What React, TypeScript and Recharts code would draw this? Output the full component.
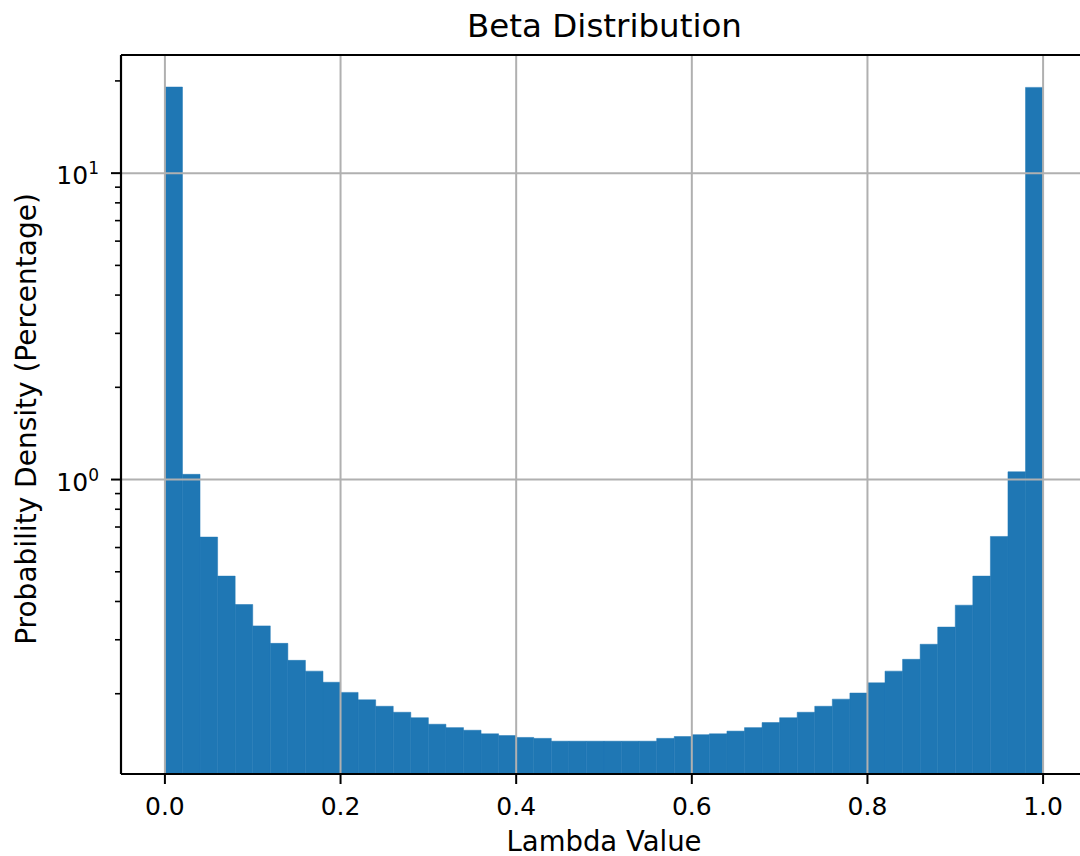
import { Bar, BarChart, ReferenceLine, XAxis, YAxis } from "recharts";

// 50-bin histogram of lambda ~ Beta(a, a), density in percent, log y
const binCenters = [
  0.01, 0.03, 0.05, 0.07, 0.09, 0.11, 0.13, 0.15, 0.17, 0.19,
  0.21, 0.23, 0.25, 0.27, 0.29, 0.31, 0.33, 0.35, 0.37, 0.39,
  0.41, 0.43, 0.45, 0.47, 0.49, 0.51, 0.53, 0.55, 0.57, 0.59,
  0.61, 0.63, 0.65, 0.67, 0.69, 0.71, 0.73, 0.75, 0.77, 0.79,
  0.81, 0.83, 0.85, 0.87, 0.89, 0.91, 0.93, 0.95, 0.97, 0.99,
];
const density = [
  19.1, 1.04, 0.649, 0.484, 0.391, 0.333, 0.292, 0.257, 0.237, 0.218,
  0.202, 0.191, 0.182, 0.174, 0.167, 0.159, 0.155, 0.152, 0.148, 0.146,
  0.144, 0.143, 0.14, 0.14, 0.14, 0.14, 0.14, 0.14, 0.143, 0.145,
  0.147, 0.148, 0.151, 0.155, 0.161, 0.167, 0.174, 0.182, 0.192, 0.201,
  0.217, 0.237, 0.259, 0.29, 0.33, 0.389, 0.484, 0.652, 1.06, 19.05,
];
const xTicks = [0, 0.2, 0.4, 0.6, 0.8, 1.0];
const yMajorTicks = [1, 10];
const yMinorTicks = [0.2, 0.3, 0.4, 0.5, 0.6, 0.7, 0.8, 0.9, 2, 3, 4, 5, 6, 7, 8, 9, 20];

const data = binCenters.map((x, i) => ({ x, density: density[i] }));
const yAllTicks = [...yMinorTicks, ...yMajorTicks].sort((a, b) => a - b);

const FONT = "'DejaVu Sans', sans-serif";
const BLUE = "#1f77b4";
const GRID = "#b0b0b0";
const xDomain = [-0.05, 1.05];
const yDomain = [0.1094, 24.3];

// log tick: long mark + 10^n label for decades, short bare mark otherwise
function LogTick({ x, y, payload }: any) {
  const v = payload.value;
  const major = yMajorTicks.includes(v);
  if (!major) {
    return <line x1={x} x2={x - 6} y1={y} y2={y} stroke="#000" strokeWidth={1.6} />;
  }
  const exp = Math.round(Math.log10(v));
  return (
    <g>
      <line x1={x} x2={x - 10} y1={y} y2={y} stroke="#000" strokeWidth={2} />
      <text x={x - 22} y={y + 11} textAnchor="end" fill="#000" fontFamily={FONT} fontSize={25}>
        10
        <tspan fontSize={17} dy={-10}>
          {exp}
        </tspan>
      </text>
    </g>
  );
}

const axisStroke = { stroke: "#000", strokeWidth: 2.2 };

export default function App() {
  return (
    <div style={{ position: "absolute", left: 0, top: 0, width: 1080, height: 856, overflow: "hidden", background: "#fff" }}>
      <BarChart
        width={1100}
        height={856}
        data={data}
        margin={{ top: 54, right: 12, bottom: 0, left: 0 }}
      >
        <XAxis
          dataKey="x"
          type="number"
          domain={xDomain}
          allowDataOverflow
          ticks={xTicks}
          tickFormatter={(v: number) => v.toFixed(1)}
          height={82}
          tickSize={10}
          tickMargin={13}
          axisLine={axisStroke}
          tickLine={{ stroke: "#000", strokeWidth: 2 }}
          tick={{ fill: "#000", fontSize: 25, fontFamily: FONT }}
        />
        <XAxis
          xAxisId="top"
          dataKey="x"
          type="number"
          orientation="top"
          domain={xDomain}
          allowDataOverflow
          height={1}
          tick={false}
          tickLine={false}
          axisLine={axisStroke}
        />
        <YAxis
          scale="log"
          domain={yDomain}
          allowDataOverflow
          ticks={yAllTicks}
          interval={0}
          width={121}
          tickSize={0}
          tickMargin={0}
          axisLine={axisStroke}
          tickLine={false}
          tick={LogTick}
        />
        <YAxis
          yAxisId="right"
          orientation="right"
          scale="log"
          domain={yDomain}
          allowDataOverflow
          width={1}
          tick={false}
          tickLine={false}
          axisLine={axisStroke}
        />
        <Bar
          dataKey="density"
          fill={BLUE}
          stroke={BLUE}
          strokeWidth={0.5}
          barSize={17.56}
          isAnimationActive={false}
        />
        {xTicks.map((t) => (
          <ReferenceLine key={`gx${t}`} x={t} stroke={GRID} strokeWidth={2} />
        ))}
        {yMajorTicks.map((t) => (
          <ReferenceLine key={`gy${t}`} y={t} stroke={GRID} strokeWidth={2} />
        ))}
      </BarChart>
      <svg
        width={1080}
        height={856}
        style={{ position: "absolute", left: 0, top: 0, pointerEvents: "none" }}
      >
        <text x={604.5} y={36.7} textAnchor="middle" fontFamily={FONT} fontSize={32.5} fill="#000">
          Beta Distribution
        </text>
        <text x={604} y={850.5} textAnchor="middle" fontFamily={FONT} fontSize={27.5} fill="#000">
          Lambda Value
        </text>
        <text
          x={35.5}
          y={419}
          transform="rotate(-90, 35.5, 419)"
          textAnchor="middle"
          fontFamily={FONT}
          fontSize={28}
          fill="#000"
        >
          Probability Density (Percentage)
        </text>
      </svg>
    </div>
  );
}
